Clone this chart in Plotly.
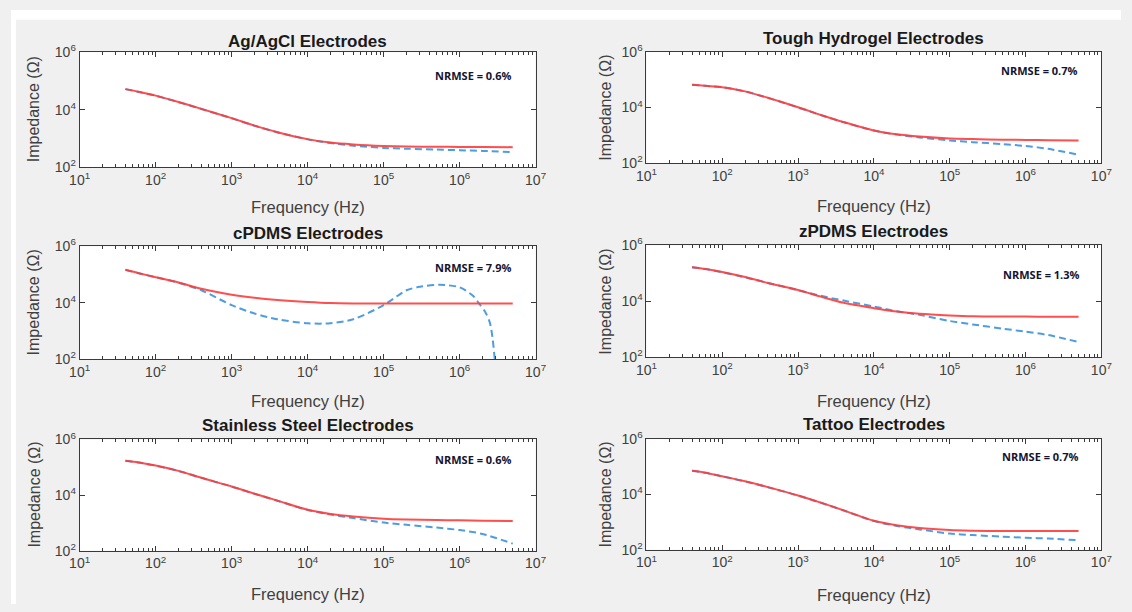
import plotly.graph_objects as go

W, H = 1132, 612

# ---------------- data ----------------
TITLES = ["Ag/AgCl Electrodes", "Tough Hydrogel Electrodes", "cPDMS Electrodes",
          "zPDMS Electrodes", "Stainless Steel Electrodes", "Tattoo Electrodes"]
NRMSE = ["NRMSE = 0.6%", "NRMSE = 0.7%", "NRMSE = 7.9%",
         "NRMSE = 1.3%", "NRMSE = 0.6%", "NRMSE = 0.7%"]
X_TITLE = "Frequency (Hz)"
Y_TITLE = "Impedance (Ω)"
X_TICK_VALS = [1e1, 1e2, 1e3, 1e4, 1e5, 1e6, 1e7]
X_TICK_TEXT = ["10<sup>1</sup>", "10<sup>2</sup>", "10<sup>3</sup>", "10<sup>4</sup>",
               "10<sup>5</sup>", "10<sup>6</sup>", "10<sup>7</sup>"]
Y_TICK_VALS = [1e2, 1e4, 1e6]
Y_TICK_TEXT = ["10<sup>2</sup>", "10<sup>4</sup>", "10<sup>6</sup>"]

FREQ = [40, 60, 100, 200, 400, 1000, 2000, 4000, 10000, 20000, 40000,
        100000, 200000, 500000, 1000000, 2000000, 5000000]

agagcl_fit = [52000, 42000, 31000, 18600, 10700, 5100, 2800, 1650, 950, 720, 620,
              550, 525, 515, 510, 505, 500]
agagcl_meas = [52000, 41500, 30500, 18400, 10600, 5050, 2780, 1640, 930, 690, 560,
               470, 440, 410, 390, 370, 335]

hydrogel_fit = [66000, 60000, 53700, 38000, 22400, 10200, 5400, 3000, 1510, 1100, 910,
                776, 741, 708, 692, 676, 661]
hydrogel_meas = [66000, 60000, 53500, 37800, 22200, 10100, 5350, 2980, 1500, 1070, 850,
                 660, 575, 490, 417, 331, 204]

cpdms_fit = [148000, 112000, 81000, 52500, 31600, 19500, 15100, 12600, 10700, 9800,
             9550, 9550, 9550, 9550, 9550, 9550, 9550]
CPDMS_MEAS_FREQ = [40, 60, 100, 200, 400, 1000, 2000, 4000, 10000, 20000, 40000,
                   100000, 200000, 300000, 550000, 1000000, 1500000, 1800000,
                   2200000, 2500000, 2700000, 2900000, 3000000]
cpdms_meas = [148000, 112000, 81000, 52000, 28000, 8300, 4200, 2630, 1900, 1900,
              2630, 8300, 28000, 37000, 43500, 35500, 17800, 9550,
              4500, 2000, 630, 100, 30]

zpdms_fit = [166000, 144000, 112000, 74000, 45700, 25700, 14800, 8900, 5750, 4370,
             3630, 3160, 2950, 2880, 2880, 2820, 2820]
zpdms_meas = [166000, 144000, 110000, 72400, 45700, 25100, 15800, 10700, 6600, 4470,
              3310, 2000, 1510, 1070, 830, 630, 355]

steel_fit = [170000, 148000, 115000, 74000, 41700, 20400, 11200, 6300, 2950, 2090,
             1700, 1410, 1320, 1260, 1230, 1200, 1170]
steel_meas = [170000, 148000, 114000, 73500, 41500, 20200, 11100, 6250, 2900, 2000,
              1480, 1020, 850, 676, 550, 398, 178]

tattoo_fit = [70800, 60300, 44700, 29500, 18200, 9100, 5000, 2630, 1100, 760,
              600, 510, 485, 470, 468, 468, 468]
tattoo_meas = [70800, 60000, 44500, 29300, 18000, 9000, 4950, 2600, 1080, 720,
               540, 380, 335, 295, 269, 251, 219]

PANELS = [
    (FREQ, agagcl_fit, FREQ, agagcl_meas),
    (FREQ, hydrogel_fit, FREQ, hydrogel_meas),
    (FREQ, cpdms_fit, CPDMS_MEAS_FREQ, cpdms_meas),
    (FREQ, zpdms_fit, FREQ, zpdms_meas),
    (FREQ, steel_fit, FREQ, steel_meas),
    (FREQ, tattoo_fit, FREQ, tattoo_meas),
]

# ---------------- layout (pixel boxes: left, right, top, bottom) ----------------
BOXES = [
    (70, 535, 43.5, 162),
    (648, 1112, 43, 158),
    (70, 535, 243.5, 360),
    (648, 1112, 242.5, 358),
    (70, 535, 442.5, 557),
    (648, 1112, 442, 556),
]
TITLE_Y = [32, 29, 230, 228, 428, 427]
XTITLE_Y = [203, 202, 403, 403, 602, 603]
YTITLE_X = [23, 606, 23, 606, 23, 606]
NRMSE_XY = [(472, 67), (1049, 62), (472, 265), (1051, 272), (472, 463), (1050, 460)]

RED = "#ff3b3b"
BLUE = "#4d9de0"
AXC = "#3a3a3a"
TXT = "#404040"
FONT = "Liberation Sans, Arial, sans-serif"


def px(x):
    return x / W


def py(y):
    return 1 - y / H


fig = go.Figure()
layout = dict(
    width=W, height=H,
    margin=dict(l=0, r=0, t=0, b=0),
    paper_bgcolor="#f0f0f0",
    plot_bgcolor="white",
    showlegend=False,
    font=dict(family=FONT, color=TXT),
    annotations=[],
    shapes=[],
)

for i, (fx, fy, mx, my) in enumerate(PANELS):
    n = i + 1
    xa = "x" if n == 1 else f"x{n}"
    ya = "y" if n == 1 else f"y{n}"
    fig.add_trace(go.Scatter(x=mx, y=my, mode="lines", xaxis=xa, yaxis=ya,
                             line=dict(color=BLUE, width=2, dash="7px,4px",
                                       shape="spline", smoothing=0.8),
                             hoverinfo="skip"))
    fig.add_trace(go.Scatter(x=fx, y=fy, mode="lines", xaxis=xa, yaxis=ya,
                             line=dict(color=RED, width=2, shape="spline", smoothing=0.8),
                             opacity=0.9, hoverinfo="skip"))
    l, r, t, b = BOXES[i]
    xkey = "xaxis" if n == 1 else f"xaxis{n}"
    ykey = "yaxis" if n == 1 else f"yaxis{n}"
    layout[xkey] = dict(
        type="log", range=[1, 7], domain=[px(l), px(r)], anchor=ya,
        tickmode="array", tickvals=X_TICK_VALS, ticktext=X_TICK_TEXT,
        ticks="inside", ticklen=5, tickcolor=AXC, tickwidth=1,
        showline=True, linecolor=AXC, linewidth=1, mirror="ticks",
        showgrid=False, zeroline=False,
        tickfont=dict(family=FONT, size=14, color=TXT),
        minor=dict(ticks="inside", ticklen=3, tickcolor=AXC, dtick="D1", showgrid=False),
    )
    layout[ykey] = dict(
        type="log", range=[2, 6], domain=[py(b), py(t)], anchor=xa,
        tickmode="array", tickvals=Y_TICK_VALS, ticktext=Y_TICK_TEXT,
        ticks="inside", ticklen=5, tickcolor=AXC, tickwidth=1,
        showline=True, linecolor=AXC, linewidth=1, mirror="ticks",
        showgrid=False, zeroline=False,
        tickfont=dict(family=FONT, size=14, color=TXT),
    )
    cx = (l + r) / 2
    cy = (t + b) / 2
    layout["annotations"] += [
        dict(text=f"<b>{TITLES[i]}</b>", x=px(cx), y=py(TITLE_Y[i]), xref="paper", yref="paper",
             xanchor="center", yanchor="middle", showarrow=False,
             font=dict(family=FONT, size=17, color="#1a1a1a")),
        dict(text=X_TITLE, x=px(cx), y=py(XTITLE_Y[i]), xref="paper", yref="paper",
             xanchor="center", yanchor="middle", showarrow=False,
             font=dict(family=FONT, size=16.5, color=TXT)),
        dict(text=Y_TITLE, x=px(YTITLE_X[i]), y=py(cy), xref="paper", yref="paper",
             xanchor="center", yanchor="middle", showarrow=False, textangle=-90,
             font=dict(family=FONT, size=16, color=TXT)),
        dict(text=f"<b>{NRMSE[i]}</b>", x=px(NRMSE_XY[i][0]), y=py(NRMSE_XY[i][1]),
             xref="paper", yref="paper", xanchor="center", yanchor="middle", showarrow=False,
             font=dict(family="Open Sans, sans-serif", size=11, color="#141432")),
    ]

# white strips at the top and left edge of the image
layout["shapes"] += [
    dict(type="rect", xref="paper", yref="paper", x0=0, x1=1, y0=py(10), y1=1,
         fillcolor="white", line=dict(width=0), layer="below"),
    dict(type="rect", xref="paper", yref="paper", x0=0, x1=px(5), y0=0, y1=1,
         fillcolor="white", line=dict(width=0), layer="below"),
]

fig.update_layout(**layout)

POST = """
document.documentElement.style.overflow='hidden';
document.documentElement.style.background='#f0f0f0';
document.body.style.margin='0';
document.body.style.background='#f0f0f0';
document.body.style.overflow='hidden';
var gd = document.getElementById('{plot_id}');
var vw = window.innerWidth, vh = window.innerHeight;
if (vw >= 1000 && vw <= 1400 && vh >= 500 && vh <= 800 && (vw !== 1132 || vh !== 612)) {
  gd.style.width = vw + 'px';
  gd.style.height = vh + 'px';
  Plotly.relayout(gd, {width: vw, height: vh});
}
"""

fig.write_html(
    "out.html",
    config={"displayModeBar": False, "staticPlot": True},
    post_script=POST,
)
